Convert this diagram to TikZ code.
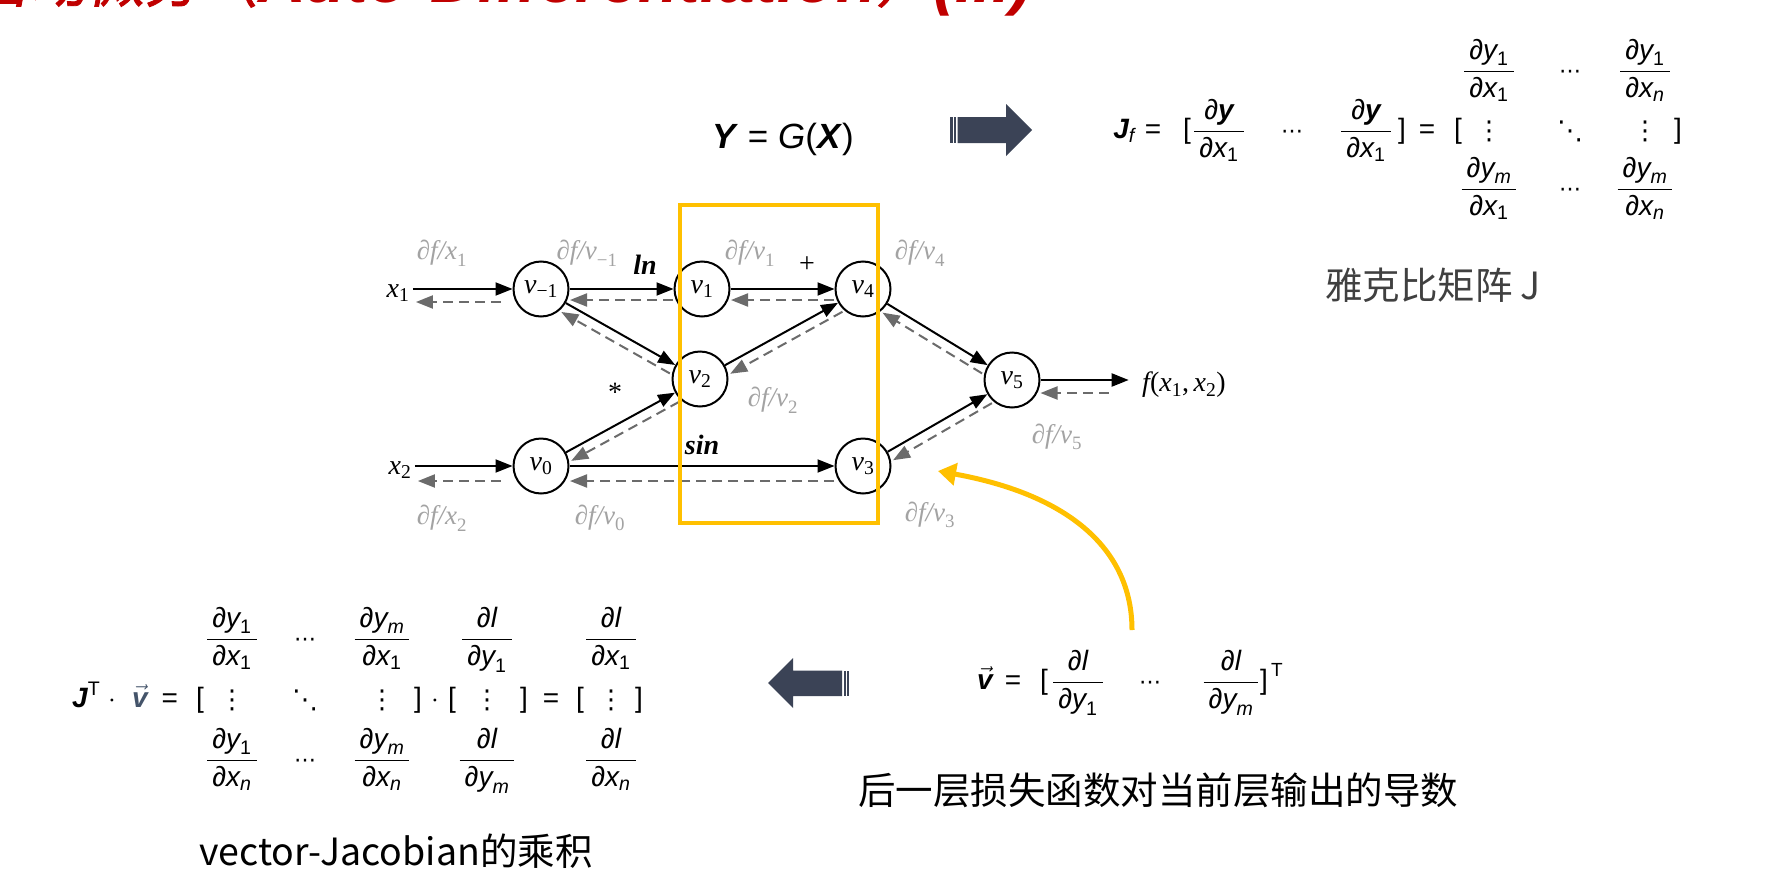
\RequirePackage{fix-cm}
\documentclass[tikz,border=0pt]{standalone}
\usepackage{amsmath}
\usepackage{fontspec}
\usetikzlibrary{arrows.meta,calc}
\newfontfamily\cjk{Noto Sans CJK SC}
\newfontfamily\cjkt[FakeSlant=0.2,FakeBold=1.5]{Noto Sans CJK SC}
\newfontfamily\lsans{Liberation Sans}
\newfontfamily\tms{Liberation Serif}
\newfontfamily\djv{DejaVu Sans}
\definecolor{gold}{HTML}{FFC000}
\definecolor{slate}{HTML}{3B4356}
\definecolor{lblgray}{HTML}{A3A3A3}
\definecolor{dashgray}{HTML}{6B6B6B}
\definecolor{titlered}{HTML}{C00000}
\definecolor{vblue}{HTML}{44546A}
\definecolor{capgray}{HTML}{404040}
\newcommand{\si}[1]{\text{\lsans\itshape #1}}
\newcommand{\su}[1]{\text{\lsans #1}}
\newcommand{\sbi}[1]{\text{\lsans\bfseries\itshape #1}}
\newcommand{\ti}[1]{\text{\tms\itshape #1}}
\newcommand{\tu}[1]{\text{\tms #1}}
\newcommand{\pfrac}[2]{\dfrac{\kern5pt\si{∂}#1\kern5pt}{\kern5pt\si{∂}#2\kern5pt}}
\newcommand{\backarrow}[3]{\draw[bb] ($(#1)!#3!90:(#2)$) -- ($(#2)!#3!-90:(#1)$);}
\newcommand{\latt}[1]{{\lsans\bfseries\itshape\fontsize{66}{68}\selectfont #1}}
\begin{document}
\begin{tikzpicture}[x=1pt,y=-1pt,
 vnode/.style={circle,draw,line width=2pt,minimum size=55pt,inner sep=0pt,font=\fontsize{28}{32}\selectfont},
 fwd/.style={line width=2pt,-{Triangle[length=17pt,width=13pt]}},
 back/.style={dashgray,line width=2pt,dash pattern=on 10pt off 6pt,-{Triangle[length=17pt,width=13pt]}},
 bb/.style={back,shorten <=29pt,shorten >=29pt},
 glabel/.style={text=lblgray,font=\fontsize{27}{30}\selectfont},
 blabel/.style={font=\fontsize{28}{32}\selectfont},
 fm/.style={anchor=base,yshift=-7pt,inner sep=0pt,font=\fontsize{28}{32}\selectfont},
 dm/.style={anchor=center,inner sep=0pt,font=\djv\fontsize{26}{30}\selectfont},
 hm/.style={anchor=base,yshift=-7pt,inner sep=0pt,font=\djv\fontsize{22}{26}\selectfont},
 captext/.style={inner sep=0pt,font=\cjk\fontsize{37.5}{42}\selectfont},
 yellowline/.style={gold,line width=5pt,-{Triangle[length=18pt,width=22pt]}}
]
\fill[white] (0,0) rectangle (1790,878);
\useasboundingbox (0,0) rectangle (1790,878);

% title (cut by the top edge)
\begin{scope}
\clip (0,0) rectangle (1790,878);
\node[anchor=base west,inner sep=0pt,text=titlered,font=\cjkt\fontsize{57}{60}\selectfont] (title) at (-27,2) {自动微分（\latt{Auto-Differentiation}）\latt{(III)}};
\end{scope}

% ---------- computation graph ----------
\node[vnode] (vm1) at (541,289) {$\ti{v}_{\tu{−1}}$};
\node[vnode] (v1) at (702,289) {$\ti{v}_{\tu{1}}$};
\node[vnode] (v4) at (863,289) {$\ti{v}_{\tu{4}}$};
\node[vnode] (v2) at (700,379) {$\ti{v}_{\tu{2}}$};
\node[vnode] (v0) at (541,466) {$\ti{v}_{\tu{0}}$};
\node[vnode] (v3) at (863,466) {$\ti{v}_{\tu{3}}$};
\node[vnode] (v5) at (1012,380) {$\ti{v}_{\tu{5}}$};
\node[blabel] (x1) at (398,293) {$\ti{x}_{\tu{1}}$};
\node[blabel] (x2) at (400,470) {$\ti{x}_{\tu{2}}$};
\node[blabel] (fx) at (1184,385) {$\ti{f}\tu{(}\ti{x}_{\tu{1}}\tu{,}\,\ti{x}_{\tu{2}}\tu{)}$};

\draw[fwd] (x1.east |- vm1) -- (vm1);
\draw[fwd] (vm1) -- (v1);
\draw[fwd] (v1) -- (v4);
\draw[fwd] (vm1) -- (v2);
\draw[fwd] (v0) -- (v2);
\draw[fwd] (v2) -- (v4);
\draw[fwd] (v4) -- (v5);
\draw[fwd] (v3) -- (v5);
\draw[fwd] (x2.east |- v0) -- (v0);
\draw[fwd] (v0) -- (v3);
\draw[fwd,shorten >=10pt] (v5) -- (fx.west |- v5);

\backarrow{v1}{vm1}{11pt}
\backarrow{v4}{v1}{11pt}
\backarrow{v2}{vm1}{10pt}
\backarrow{v2}{v0}{10pt}
\backarrow{v4}{v2}{10pt}
\backarrow{v5}{v4}{10pt}
\backarrow{v5}{v3}{10pt}
\backarrow{v3}{v0}{15pt}
\draw[back,shorten <=12pt,shorten >=3pt] ($(vm1.west)+(0,13)$) -- ($(x1.east |- vm1)+(0,13)$);
\draw[back,shorten <=12pt,shorten >=3pt] ($(v0.west)+(0,15)$) -- ($(x2.east |- v0)+(0,15)$);
\draw[back,shorten <=30pt] ($(fx.west |- v5)+(0,13)$) -- ($(v5.east)+(0,13)$);

\node[glabel] (gx1) at (442,253) {$\ti{∂f/x}_{\tu{1}}$};
\node[glabel] (gvm1) at (587,253) {$\ti{∂f/v}_{\tu{−1}}$};
\node[glabel] (gv1) at (750,253) {$\ti{∂f/v}_{\tu{1}}$};
\node[glabel] (gv4) at (920,253) {$\ti{∂f/v}_{\tu{4}}$};
\node[glabel] (gv2) at (773,400) {$\ti{∂f/v}_{\tu{2}}$};
\node[glabel] (gv5) at (1057,437) {$\ti{∂f/v}_{\tu{5}}$};
\node[glabel] (gx2) at (442,518) {$\ti{∂f/x}_{\tu{2}}$};
\node[glabel] (gv0) at (600,518) {$\ti{∂f/v}_{\tu{0}}$};
\node[glabel] (gv3) at (930,515) {$\ti{∂f/v}_{\tu{3}}$};
\node[blabel] (opln) at (645,265) {\tms\bfseries\itshape ln};
\node[blabel] (opplus) at (807,265) {\tms +};
\node[blabel] (opstar) at (615,392) {\tms *};
\node[blabel] (opsin) at (702,445) {\tms\bfseries\itshape sin};

\node[draw=gold,line width=4pt,minimum width=198pt,minimum height=318pt,inner sep=0pt,outer sep=0pt] (hl) at (779,364) {};

% ---------- Y = G(X) and Jacobian ----------
\node[anchor=base,inner sep=0pt,font=\lsans\fontsize{35}{40}\selectfont] (ygx) at (783,148) {\textbf{\textit{Y}} = \textit{G}(\textbf{\textit{X}})};
\fill[slate] (950,117) rectangle (952.5,143);
\fill[slate] (954,117) rectangle (956,143);
\fill[slate] (957.5,117) -- (1006,117) -- (1006,104) -- (1032,130) -- (1006,156) -- (1006,143) -- (957.5,143) -- cycle;

\node[fm] (jf) at (1124,131) {$\sbi{J}_{\si{f}}$};
\node[fm] (jeq1) at (1153,131) {\lsans =};
\node[fm] (jlb1) at (1187,131) {\lsans [};
\node[fm] (jfr1) at (1219,131) {$\pfrac{\sbi{y}}{\si{x}_{\su{1}}}$};
\node[hm] (jdots) at (1292,131) {⋯};
\node[fm] (jfr2) at (1366,131) {$\pfrac{\sbi{y}}{\si{x}_{\su{1}}}$};
\node[fm] (jrb1) at (1402,131) {\lsans ]};
\node[fm] (jeq2) at (1427,131) {\lsans =};
\node[fm] (jlb2) at (1458,131) {\lsans [};
\node[fm] (m11) at (1489,71) {$\pfrac{\si{y}_{\su{1}}}{\si{x}_{\su{1}}}$};
\node[hm] (m12) at (1570,71) {⋯};
\node[fm] (m13) at (1645,71) {$\pfrac{\si{y}_{\su{1}}}{\si{x}_{\si{n}}}$};
\node[dm] (m21) at (1489,131) {⋮};
\node[dm] (m22) at (1570,131) {⋱};
\node[dm] (m23) at (1645,131) {⋮};
\node[fm] (m31) at (1489,189) {$\pfrac{\si{y}_{\si{m}}}{\si{x}_{\su{1}}}$};
\node[hm] (m32) at (1570,189) {⋯};
\node[fm] (m33) at (1645,189) {$\pfrac{\si{y}_{\si{m}}}{\si{x}_{\si{n}}}$};
\node[fm] (jrb2) at (1678,131) {\lsans ]};
\node[captext,text=capgray] (capj) at (1433,285) {雅克比矩阵 J};

% ---------- vector-Jacobian product ----------
\node[fm,anchor=base west] (bjv) at (72,700) {$\sbi{J}^{\su{T}}\kern8pt{\cdot}\kern16pt{\color{vblue}\vec{\sbi{v}}}\kern14pt\su{=}$};
\node[fm] (blb1) at (200,700) {\lsans [};
\node[fm] (b11) at (232,639) {$\pfrac{\si{y}_{\su{1}}}{\si{x}_{\su{1}}}$};
\node[hm] (b12) at (305,639) {⋯};
\node[fm] (b13) at (382,639) {$\pfrac{\si{y}_{\si{m}}}{\si{x}_{\su{1}}}$};
\node[dm] (b21) at (232,700) {⋮};
\node[dm] (b22) at (305,700) {⋱};
\node[dm] (b23) at (382,700) {⋮};
\node[fm] (b31) at (232,760) {$\pfrac{\si{y}_{\su{1}}}{\si{x}_{\si{n}}}$};
\node[hm] (b32) at (305,760) {⋯};
\node[fm] (b33) at (382,760) {$\pfrac{\si{y}_{\si{m}}}{\si{x}_{\si{n}}}$};
\node[fm] (brb1) at (418,700) {\lsans ]};
\node[fm] (bdot2) at (435,700) {$\cdot$};
\node[fm] (blb2) at (452,700) {\lsans [};
\node[fm] (c1) at (487,639) {$\pfrac{\si{l}}{\si{y}_{\su{1}}}$};
\node[dm] (c2) at (487,700) {⋮};
\node[fm] (c3) at (487,760) {$\pfrac{\si{l}}{\si{y}_{\si{m}}}$};
\node[fm] (brb2) at (524,700) {\lsans ]};
\node[fm] (beq2) at (551,700) {\lsans =};
\node[fm] (blb3) at (580,700) {\lsans [};
\node[fm] (d1) at (611,639) {$\pfrac{\si{l}}{\si{x}_{\su{1}}}$};
\node[dm] (d2) at (611,700) {⋮};
\node[fm] (d3) at (611,760) {$\pfrac{\si{l}}{\si{x}_{\si{n}}}$};
\node[fm] (brb3) at (639,700) {\lsans ]};
\node[captext] (capvj) at (396,851) {vector-Jacobian的乘积};

\fill[slate] (768,683) -- (793,658) -- (793,670.5) -- (842,670.5) -- (842,696) -- (793,696) -- (793,708) -- cycle;
\fill[slate] (843.5,670.5) rectangle (845.5,696);
\fill[slate] (847,670.5) rectangle (849,696);

% ---------- v vector ----------
\node[fm,anchor=base west] (vveq) at (977,682) {$\vec{\sbi{v}}\kern12pt\su{=}$};
\node[fm] (vlb) at (1044,682) {\lsans [};
\node[fm] (vf1) at (1078,682) {$\pfrac{\si{l}}{\si{y}_{\su{1}}}$};
\node[hm] (vdots) at (1150,682) {⋯};
\node[fm] (vf2) at (1231,682) {$\pfrac{\si{l}}{\si{y}_{\si{m}}}$};
\node[fm] (vrb) at (1264,682) {\lsans ]};
\node[inner sep=0pt,font=\lsans\fontsize{19}{22}\selectfont] (vT) at (1277,670) {T};
\node[captext] (capv) at (1158,790) {后一层损失函数对当前层输出的导数};

\coordinate (ys) at (1132,630);
\coordinate (ye) at (938,471);
\draw[yellowline] (ys) .. controls (1132,550) and (1070,495) .. (ye);
\end{tikzpicture}
\end{document}
